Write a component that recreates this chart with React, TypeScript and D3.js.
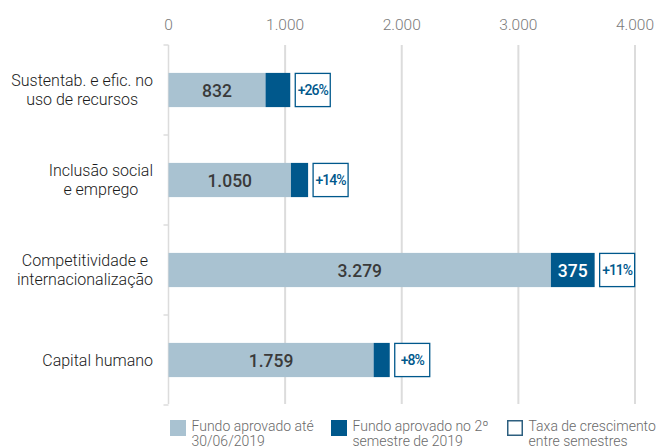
import React, { useEffect, useRef } from "react";
import * as d3 from "d3";

const categories = [
  ["Sustentab. e efic. no", "uso de recursos"],
  ["Inclusão social", "e emprego"],
  ["Competitividade e", "internacionalização"],
  ["Capital humano"],
];
const approvedUntilJune = [832, 1050, 3279, 1759];
const approvedSecondSemester = [212, 147, 375, 138];
const growthLabels = ["+26%", "+14%", "+11%", "+8%"];
const tickValues = [0, 1000, 2000, 3000, 4000];
const legendLabels = [
  ["Fundo aprovado até", "30/06/2019"],
  ["Fundo aprovado no 2º", "semestre de 2019"],
  ["Taxa de crescimento", "entre semestres"],
];

const LIGHT = "#a9c2d1";
const DARK = "#00588c";
const FONT = "Roboto, sans-serif";

export default function App() {
  const ref = useRef<SVGSVGElement>(null);

  useEffect(() => {
    const svg = d3.select(ref.current);
    svg.selectAll("*").remove();

    const width = 657,
      height = 448;
    const x = d3.scaleLinear().domain([0, 4000]).range([168.5, 635]);
    const y = d3
      .scaleBand<number>()
      .domain(d3.range(categories.length))
      .range([45, 405])
      .paddingInner(0.62)
      .paddingOuter(0.31);
    const fmt = (v: number) => d3.format(",")(v).replace(/,/g, ".");

    svg.attr("width", width).attr("height", height).style("font-family", FONT);

    // vertical grid
    svg
      .append("g")
      .selectAll("line")
      .data(tickValues.slice(1))
      .join("line")
      .attr("x1", (d) => x(d))
      .attr("x2", (d) => x(d))
      .attr("y1", 45)
      .attr("y2", 404)
      .attr("stroke", "#dcdcdc")
      .attr("stroke-width", 2);

    // top tick labels
    svg
      .append("g")
      .selectAll("text")
      .data(tickValues)
      .join("text")
      .attr("x", (d) => x(d))
      .attr("y", 30)
      .attr("text-anchor", "middle")
      .attr("fill", "#7a7a7a")
      .attr("font-size", 15.5)
      .attr("font-weight", 300)
      .text(fmt);

    // left axis with bracket ticks
    const axis = svg.append("g").attr("stroke", "#dcdcdc").attr("stroke-width", 1.5);
    axis.append("line").attr("x1", x(0)).attr("x2", x(0)).attr("y1", 45).attr("y2", 404);
    const bounds = d3.range(categories.length + 1).map((i) => 45 + i * 90);
    axis
      .selectAll("line.t")
      .data(bounds)
      .join("line")
      .attr("class", "t")
      .attr("x1", x(0) - 5)
      .attr("x2", x(0))
      .attr("y1", (d) => d)
      .attr("y2", (d) => d);

    const rows = svg
      .append("g")
      .selectAll("g")
      .data(d3.range(categories.length))
      .join("g");

    rows
      .append("rect")
      .attr("x", x(0))
      .attr("y", (i) => y(i)!)
      .attr("width", (i) => x(approvedUntilJune[i]) - x(0))
      .attr("height", y.bandwidth())
      .attr("fill", LIGHT);

    rows
      .append("rect")
      .attr("x", (i) => x(approvedUntilJune[i]))
      .attr("y", (i) => y(i)!)
      .attr("width", (i) => x(approvedUntilJune[i] + approvedSecondSemester[i]) - x(approvedUntilJune[i]))
      .attr("height", y.bandwidth())
      .attr("fill", DARK);

    rows
      .append("text")
      .attr("x", (i) => (x(0) + x(approvedUntilJune[i])) / 2)
      .attr("y", (i) => y(i)! + y.bandwidth() / 2 + 6.5)
      .attr("text-anchor", "middle")
      .attr("font-size", 17.5)
      .attr("font-weight", 500)
      .attr("fill", "#3a3a3a")
      .text((i) => fmt(approvedUntilJune[i]));

    rows
      .filter((i) => approvedSecondSemester[i] > 300)
      .append("text")
      .attr("x", (i) => (x(approvedUntilJune[i]) + x(approvedUntilJune[i] + approvedSecondSemester[i])) / 2)
      .attr("y", (i) => y(i)! + y.bandwidth() / 2 + 6.5)
      .attr("text-anchor", "middle")
      .attr("font-size", 17.5)
      .attr("font-weight", 500)
      .attr("fill", "#fff")
      .text((i) => approvedSecondSemester[i]);

    const boxW = 35;
    rows
      .append("rect")
      .attr("x", (i) => x(approvedUntilJune[i] + approvedSecondSemester[i]) + 5)
      .attr("y", (i) => y(i)! + 0.5)
      .attr("width", boxW)
      .attr("height", y.bandwidth() - 1)
      .attr("fill", "#fff")
      .attr("stroke", DARK)
      .attr("stroke-width", 1.3);

    rows
      .append("text")
      .attr("x", (i) => x(approvedUntilJune[i] + approvedSecondSemester[i]) + 5 + boxW / 2)
      .attr("y", (i) => y(i)! + y.bandwidth() / 2 + 5)
      .attr("text-anchor", "middle")
      .attr("font-size", 14)
      .attr("font-weight", 500)
      .attr("fill", DARK)
      .attr("letter-spacing", -1)
      .text((i) => growthLabels[i]);

    // category labels, block right aligned and lines centred
    rows.each(function (i) {
      const g = d3.select(this);
      const lines = categories[i];
      const cy = y(i)! + y.bandwidth() / 2;
      const t = g
        .append("text")
        .attr("font-size", 16)
        .attr("font-weight", 300)
        .attr("fill", "#1a1a1a")
        .attr("text-anchor", "middle");
      lines.forEach((l, k) => {
        t.append("tspan")
          .attr("y", cy + 5.5 + (k - (lines.length - 1) / 2) * 18.3)
          .text(l);
      });
      let maxW = 0;
      t.selectAll<SVGTSpanElement, unknown>("tspan").each(function () {
        maxW = Math.max(maxW, this.getComputedTextLength());
      });
      t.selectAll("tspan").attr("x", 153 - maxW / 2);
    });

    // legend
    const legendX = [170, 331, 507];
    const lg = svg
      .append("g")
      .selectAll("g")
      .data(d3.range(legendLabels.length))
      .join("g")
      .attr("transform", (i) => `translate(${legendX[i]},420)`);
    lg.append("rect")
      .attr("x", (i) => (i === 2 ? 0.75 : 0))
      .attr("y", (i) => (i === 2 ? 0.75 : 0))
      .attr("width", (i) => (i === 2 ? 14.5 : 16))
      .attr("height", (i) => (i === 2 ? 14.5 : 16))
      .attr("fill", (i) => [LIGHT, DARK, "#fff"][i])
      .attr("stroke", (i) => (i === 2 ? "#2d5f7f" : "none"))
      .attr("stroke-width", 1.5);
    lg.append("text")
      .attr("font-size", 14)
      .attr("font-weight", 300)
      .attr("fill", "#6a6a6a")
      .selectAll("tspan")
      .data((i) => legendLabels[i])
      .join("tspan")
      .attr("x", 21.5)
      .attr("y", (_, k) => 11 + k * 15)
      .text((d) => d);
  }, []);

  return <svg ref={ref} style={{ position: "absolute", left: 0, top: 0 }}></svg>;
}
